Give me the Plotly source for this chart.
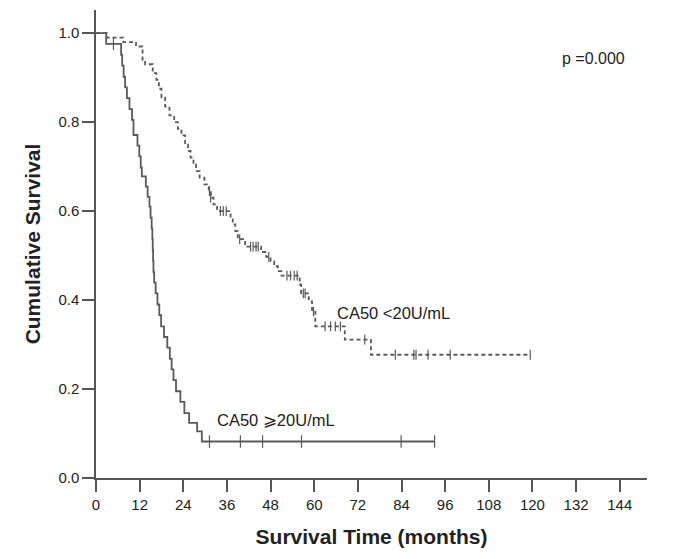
import plotly.graph_objects as go

# ---- data ----
high_t = [0, 2.8, 6.9, 7.2, 7.6, 8.0, 8.5, 9.2, 9.9, 10.3, 11.4, 11.9, 12.3, 12.6, 13.7, 14.2, 14.7,
          15.0, 15.3, 15.5, 15.6, 15.7, 15.8, 16.0, 16.4, 16.9, 17.4, 17.9, 18.7, 19.6, 20.3, 20.8,
          21.3, 22.0, 23.2, 24.3, 25.6, 27.8, 29.1, 93.1]
high_s = [1.0, 0.976, 0.951, 0.927, 0.902, 0.878, 0.854, 0.829, 0.805, 0.771, 0.747, 0.723, 0.698,
          0.678, 0.655, 0.632, 0.610, 0.585, 0.561, 0.537, 0.512, 0.488, 0.463, 0.439, 0.415, 0.390,
          0.366, 0.341, 0.317, 0.293, 0.268, 0.244, 0.220, 0.195, 0.171, 0.146, 0.124, 0.105, 0.082,
          0.082]
high_cens_t = [4.8, 31.2, 39.7, 45.8, 56.5, 83.9, 93.1]
high_cens_s = [0.976, 0.082, 0.082, 0.082, 0.082, 0.082, 0.082]

low_t = [0, 3.0, 7.5, 11.0, 12.8, 13.5, 15.6, 16.6, 17.3, 18.0, 19.0, 20.2, 21.5, 22.5, 23.5, 24.5,
         25.3, 26.0, 26.8, 27.5, 28.5, 29.8, 31.0, 31.6, 32.3, 33.3, 37.0, 37.6, 38.3, 39.0, 41.0,
         45.4, 46.8, 48.0, 49.0, 50.0, 51.0, 56.0, 56.4, 58.5, 59.4, 60.3, 68.4, 75.6, 119.4]
low_s = [1.0, 0.99, 0.98, 0.97, 0.94, 0.93, 0.91, 0.895, 0.875, 0.855, 0.835, 0.815, 0.80, 0.785,
         0.77, 0.75, 0.735, 0.72, 0.705, 0.69, 0.675, 0.66, 0.645, 0.63, 0.615, 0.60, 0.585, 0.57,
         0.555, 0.537, 0.52, 0.508, 0.497, 0.487, 0.476, 0.465, 0.455, 0.435, 0.415, 0.397, 0.374,
         0.341, 0.311, 0.277, 0.277]
low_cens_t = [31.2, 31.5, 34.2, 35.0, 35.8, 39.5, 42.5, 43.2, 44.0, 44.6, 47.5, 52.5, 53.5, 54.5,
              55.3, 57.0, 57.5, 59.8, 63.0, 64.5, 65.8, 67.2, 73.9, 82.3, 87.4, 88.0, 91.3, 97.4, 119.4]
low_cens_s = [0.645, 0.63, 0.60, 0.60, 0.60, 0.537, 0.52, 0.52, 0.52, 0.52, 0.497, 0.455, 0.455,
              0.455, 0.455, 0.415, 0.415, 0.374, 0.341, 0.341, 0.341, 0.341, 0.311, 0.277, 0.277,
              0.277, 0.277, 0.277, 0.277]

x_ticks = [0, 12, 24, 36, 48, 60, 72, 84, 96, 108, 120, 132, 144]
y_ticks = [0.0, 0.2, 0.4, 0.6, 0.8, 1.0]
y_tick_labels = ["0.0", "0.2", "0.4", "0.6", "0.8", "1.0"]

LINE = "#5a5a5a"
AX = "#555555"
TXT = "#222222"
FONT = "Liberation Sans, Arial, sans-serif"

fig = go.Figure()
fig.add_trace(go.Scatter(x=low_t, y=low_s, mode="lines", line_shape="hv",
                         line=dict(color=LINE, width=1.8, dash="4px,3px"), hoverinfo="skip"))
fig.add_trace(go.Scatter(x=low_cens_t, y=low_cens_s, mode="markers",
                         marker=dict(symbol="line-ns", size=7, line=dict(color=LINE, width=1.2)),
                         hoverinfo="skip"))
fig.add_trace(go.Scatter(x=high_t, y=high_s, mode="lines", line_shape="hv",
                         line=dict(color=LINE, width=1.8), hoverinfo="skip"))
fig.add_trace(go.Scatter(x=high_cens_t, y=high_cens_s, mode="markers",
                         marker=dict(symbol="line-ns", size=9, line=dict(color=LINE, width=1.2)),
                         hoverinfo="skip"))

# the page body adds an 8px margin, so the figure is 8px smaller than the window
fig.update_layout(
    width=677, height=551,
    margin=dict(l=88, r=38, t=2, b=81),
    paper_bgcolor="white", plot_bgcolor="white",
    showlegend=False,
    font=dict(family=FONT, color=TXT),
    xaxis=dict(range=[0, 151.5], tickvals=x_ticks, ticks="outside", ticklen=12, tickwidth=1.5,
               tickcolor=AX, showline=True, linecolor=AX, linewidth=1.5, showgrid=False,
               zeroline=False, tickfont=dict(size=15, color=TXT), automargin=False,
               title=dict(text="<b>Survival Time (months)</b>", font=dict(size=21, color=TXT),
                          standoff=18)),
    yaxis=dict(range=[0, 1.052], tickvals=y_ticks, ticktext=y_tick_labels, ticks="outside",
               ticklen=12, tickwidth=1.5, tickcolor=AX, showline=True, linecolor=AX,
               linewidth=1.5, showgrid=False, zeroline=False, tickfont=dict(size=15, color=TXT),
               automargin=False,
               title=dict(text="<b>Cumulative Survival</b>", font=dict(size=21, color=TXT),
                          standoff=12)),
    annotations=[
        dict(x=127.6, y=0.942, xref="x", yref="y", text="p =0.000", showarrow=False,
             xanchor="left", yanchor="middle", font=dict(size=16, color=TXT)),
        dict(x=65.7, y=0.371, xref="x", yref="y", text="CA50 &lt;20U/mL", showarrow=False,
             xanchor="left", yanchor="middle", font=dict(size=16.5, color=TXT)),
        dict(x=32.6, y=0.131, xref="x", yref="y", text="CA50 ⩾20U/mL", showarrow=False,
             xanchor="left", yanchor="middle", font=dict(size=16.5, color=TXT)),
    ],
)

fig.write_html("out.html")
